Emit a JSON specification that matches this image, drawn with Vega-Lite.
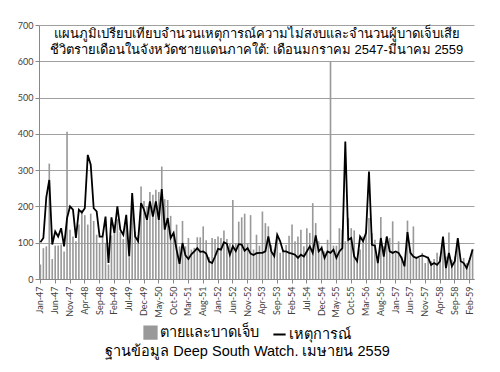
{
  "$schema": "https://vega.github.io/schema/vega-lite/v6.json",
  "autosize": "none",
  "width": 435,
  "height": 254,
  "padding": {"left": 39, "top": 25, "right": 26, "bottom": 93},
  "background": "white",
  "title": {
    "text": ["แผนภูมิเปรียบเทียบจำนวนเหตุการณ์ความไม่สงบและจำนวนผู้บาดเจ็บเสีย", "ชีวิตรายเดือนในจังหวัดชายแดนภาคใต้: เดือนมกราคม 2547-มีนาคม 2559"],
    "anchor": "middle",
    "frame": "group",
    "offset": -36,
    "fontSize": 13,
    "fontWeight": "normal",
    "color": "#000000",
    "lineHeight": 16
  },
  "data": {"values": [
    {"m":"Jan-47","b":40,"l":101},{"m":"Feb-47","b":85,"l":113},{"m":"Mar-47","b":90,"l":226},{"m":"Apr-47","b":318,"l":273},{"m":"May-47","b":55,"l":95},{"m":"Jun-47","b":92,"l":131},{"m":"Jul-47","b":92,"l":117},{"m":"Aug-47","b":95,"l":140},{"m":"Sep-47","b":76,"l":90},{"m":"Oct-47","b":406,"l":168},{"m":"Nov-47","b":136,"l":200},{"m":"Dec-47","b":117,"l":191},
    {"m":"Jan-48","b":104,"l":113},{"m":"Feb-48","b":150,"l":191},{"m":"Mar-48","b":190,"l":183},{"m":"Apr-48","b":176,"l":195},{"m":"May-48","b":150,"l":342},{"m":"Jun-48","b":180,"l":315},{"m":"Jul-48","b":160,"l":195},{"m":"Aug-48","b":122,"l":186},{"m":"Sep-48","b":100,"l":117},{"m":"Oct-48","b":115,"l":117},{"m":"Nov-48","b":100,"l":172},{"m":"Dec-48","b":40,"l":44},
    {"m":"Jan-49","b":120,"l":170},{"m":"Feb-49","b":150,"l":127},{"m":"Mar-49","b":165,"l":200},{"m":"Apr-49","b":130,"l":136},{"m":"May-49","b":110,"l":122},{"m":"Jun-49","b":160,"l":177},{"m":"Jul-49","b":60,"l":62},{"m":"Aug-49","b":200,"l":237},{"m":"Sep-49","b":130,"l":117},{"m":"Oct-49","b":120,"l":104},{"m":"Nov-49","b":255,"l":209},{"m":"Dec-49","b":215,"l":191},
    {"m":"Jan-50","b":200,"l":163},{"m":"Feb-50","b":240,"l":214},{"m":"Mar-50","b":232,"l":172},{"m":"Apr-50","b":246,"l":214},{"m":"May-50","b":240,"l":163},{"m":"Jun-50","b":310,"l":248},{"m":"Jul-50","b":220,"l":136},{"m":"Aug-50","b":218,"l":168},{"m":"Sep-50","b":174,"l":113},{"m":"Oct-50","b":122,"l":127},{"m":"Nov-50","b":150,"l":81},{"m":"Dec-50","b":90,"l":42},
    {"m":"Jan-51","b":160,"l":99},{"m":"Feb-51","b":90,"l":65},{"m":"Mar-51","b":113,"l":55},{"m":"Apr-51","b":81,"l":68},{"m":"May-51","b":86,"l":76},{"m":"Jun-51","b":115,"l":85},{"m":"Jul-51","b":115,"l":75},{"m":"Aug-51","b":145,"l":76},{"m":"Sep-51","b":107,"l":70},{"m":"Oct-51","b":60,"l":48},{"m":"Nov-51","b":113,"l":44},{"m":"Dec-51","b":110,"l":62},
    {"m":"Jan-52","b":117,"l":83},{"m":"Feb-52","b":113,"l":81},{"m":"Mar-52","b":134,"l":101},{"m":"Apr-52","b":110,"l":97},{"m":"May-52","b":99,"l":67},{"m":"Jun-52","b":218,"l":90},{"m":"Jul-52","b":99,"l":77},{"m":"Aug-52","b":158,"l":96},{"m":"Sep-52","b":170,"l":95},{"m":"Oct-52","b":180,"l":78},{"m":"Nov-52","b":99,"l":85},{"m":"Dec-52","b":176,"l":70},
    {"m":"Jan-53","b":81,"l":66},{"m":"Feb-53","b":122,"l":71},{"m":"Mar-53","b":92,"l":72},{"m":"Apr-53","b":186,"l":72},{"m":"May-53","b":154,"l":76},{"m":"Jun-53","b":145,"l":117},{"m":"Jul-53","b":94,"l":76},{"m":"Aug-53","b":81,"l":63},{"m":"Sep-53","b":117,"l":122},{"m":"Oct-53","b":72,"l":104},{"m":"Nov-53","b":81,"l":76},{"m":"Dec-53","b":94,"l":76},
    {"m":"Jan-54","b":119,"l":72},{"m":"Feb-54","b":150,"l":70},{"m":"Mar-54","b":104,"l":67},{"m":"Apr-54","b":117,"l":58},{"m":"May-54","b":136,"l":67},{"m":"Jun-54","b":90,"l":62},{"m":"Jul-54","b":140,"l":76},{"m":"Aug-54","b":127,"l":90},{"m":"Sep-54","b":209,"l":72},{"m":"Oct-54","b":154,"l":120},{"m":"Nov-54","b":104,"l":76},{"m":"Dec-54","b":92,"l":85},
    {"m":"Jan-55","b":76,"l":58},{"m":"Feb-55","b":108,"l":76},{"m":"Mar-55","b":600,"l":72},{"m":"Apr-55","b":92,"l":81},{"m":"May-55","b":92,"l":58},{"m":"Jun-55","b":140,"l":76},{"m":"Jul-55","b":136,"l":85},{"m":"Aug-55","b":104,"l":379},{"m":"Sep-55","b":168,"l":108},{"m":"Oct-55","b":140,"l":113},{"m":"Nov-55","b":134,"l":62},{"m":"Dec-55","b":49,"l":49},
    {"m":"Jan-56","b":81,"l":117},{"m":"Feb-56","b":117,"l":104},{"m":"Mar-56","b":136,"l":127},{"m":"Apr-56","b":168,"l":296},{"m":"May-56","b":127,"l":94},{"m":"Jun-56","b":108,"l":92},{"m":"Jul-56","b":44,"l":44},{"m":"Aug-56","b":171,"l":113},{"m":"Sep-56","b":90,"l":62},{"m":"Oct-56","b":117,"l":117},{"m":"Nov-56","b":113,"l":76},{"m":"Dec-56","b":159,"l":72},
    {"m":"Jan-57","b":72,"l":76},{"m":"Feb-57","b":104,"l":72},{"m":"Mar-57","b":62,"l":58},{"m":"Apr-57","b":44,"l":35},{"m":"May-57","b":161,"l":129},{"m":"Jun-57","b":81,"l":72},{"m":"Jul-57","b":145,"l":62},{"m":"Aug-57","b":62,"l":58},{"m":"Sep-57","b":58,"l":62},{"m":"Oct-57","b":72,"l":65},{"m":"Nov-57","b":44,"l":62},{"m":"Dec-57","b":62,"l":58},
    {"m":"Jan-58","b":49,"l":39},{"m":"Feb-58","b":55,"l":44},{"m":"Mar-58","b":72,"l":39},{"m":"Apr-58","b":62,"l":49},{"m":"May-58","b":104,"l":117},{"m":"Jun-58","b":62,"l":30},{"m":"Jul-58","b":128,"l":72},{"m":"Aug-58","b":53,"l":35},{"m":"Sep-58","b":62,"l":49},{"m":"Oct-58","b":104,"l":113},{"m":"Nov-58","b":49,"l":49},{"m":"Dec-58","b":58,"l":44},
    {"m":"Jan-59","b":44,"l":30},{"m":"Feb-59","b":58,"l":53},{"m":"Mar-59","b":83,"l":81}
  ]},
  "encoding": {
    "x": {
      "field": "m",
      "type": "ordinal",
      "sort": null,
      "scale": {"paddingInner": 0.45, "paddingOuter": 0.2},
      "axis": {
        "values": ["Jan-47","Jun-47","Nov-47","Apr-48","Sep-48","Feb-49","Jul-49","Dec-49","May-50","Oct-50","Mar-51","Aug-51","Jan-52","Jun-52","Nov-52","Apr-53","Sep-53","Feb-54","Jul-54","Dec-54","May-55","Oct-55","Mar-56","Aug-56","Jan-57","Jun-57","Nov-57","Apr-58","Sep-58","Feb-59"],
        "labelAngle": -90,
        "labelFontSize": 9,
        "labelFont": "Lato",
        "labelColor": "#404040",
        "labelPadding": 3,
        "tickSize": 4,
        "tickColor": "#888888",
        "domainColor": "#888888",
        "title": "ฐานข้อมูล Deep South Watch. เมษายน 2559",
        "titleFontSize": 14.5,
        "titleFontWeight": "normal",
        "titleColor": "#000000",
        "titleY": 65,
        "titleX": 208,
        "titleAnchor": "middle"
      }
    }
  },
  "layer": [
    {
      "mark": {"type": "bar", "color": "#999999"},
      "encoding": {
        "y": {
          "field": "b",
          "type": "quantitative",
          "scale": {"domain": [0, 700], "nice": false},
          "axis": {
            "values": [0,100,200,300,400,500,600,700],
            "labelOverlap": false,
            "title": null,
            "labelFontSize": 9,
            "labelFont": "Lato",
            "labelColor": "#404040",
            "gridColor": "#a0a0a0",
            "gridWidth": 1,
            "tickSize": 4,
            "tickColor": "#888888",
            "domainColor": "#888888"
          }
        },
        "color": {
          "datum": "ตายและบาดเจ็บ",
          "scale": {"domain": ["ตายและบาดเจ็บ", "เหตุการณ์"], "range": ["#999999", "#000000"]},
          "legend": {
            "title": null,
            "orient": "none",
            "direction": "horizontal",
            "legendX": 104,
            "legendY": 300,
            "labelFontSize": 14.5,
            "labelColor": "#000000",
            "symbolSize": 150,
            "columnPadding": 10,
            "labelOffset": 2,
            "encode": {
              "symbols": {
                "update": {
                  "shape": {"signal": "datum.value === 'เหตุการณ์' ? 'stroke' : 'square'"},
                  "stroke": {"signal": "datum.value === 'เหตุการณ์' ? '#000000' : '#999999'"},
                  "fill": {"signal": "datum.value === 'เหตุการณ์' ? 'transparent' : '#999999'"},
                  "strokeWidth": {"value": 2},
                  "opacity": {"value": 1}
                }
              }
            }
          }
        }
      }
    },
    {
      "mark": {"type": "line", "strokeWidth": 1.8},
      "encoding": {
        "y": {
          "field": "l",
          "type": "quantitative",
          "axis": {
            "values": [0,100,200,300,400,500,600,700],
            "labelOverlap": false,
            "title": null,
            "labelFontSize": 9,
            "labelFont": "Lato",
            "labelColor": "#404040",
            "gridColor": "#a0a0a0",
            "gridWidth": 1,
            "tickSize": 4,
            "tickColor": "#888888",
            "domainColor": "#888888"
          }
        },
        "color": {"datum": "เหตุการณ์"}
      }
    }
  ],
  "config": {
    "view": {"stroke": null},
    "axis": {"grid": true},
    "axisX": {"grid": false}
  }
}
